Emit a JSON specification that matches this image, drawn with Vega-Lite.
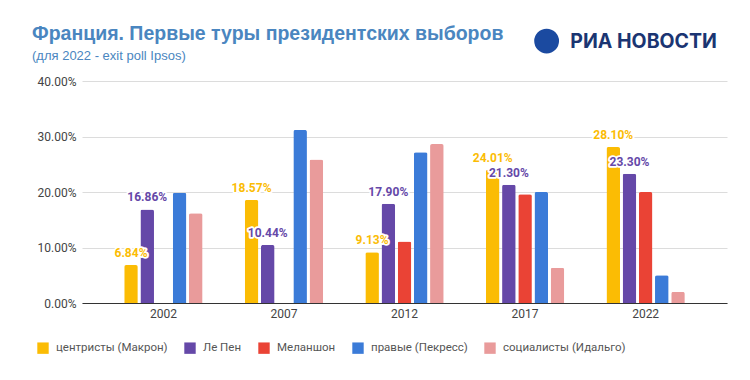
{
  "$schema": "https://vega.github.io/schema/vega-lite/v6.json",
  "width": 645,
  "height": 222,
  "autosize": {"type": "none"},
  "padding": {"left": 82, "top": 81, "right": 23, "bottom": 77},
  "background": "white",
  "title": {
    "text": "Франция. Первые туры президентских выборов",
    "subtitle": "(для 2022 - exit poll Ipsos)",
    "anchor": "start",
    "frame": "group",
    "dx": -50,
    "offset": -35,
    "font": "Liberation Sans",
    "fontSize": 19.5,
    "fontWeight": "bold",
    "color": "#4a86c0",
    "subtitleFont": "Liberation Sans Narrow, Liberation Sans",
    "subtitleFontSize": 13,
    "subtitleColor": "#4a86c0",
    "subtitlePadding": 5
  },
  "config": {
    "view": {"stroke": null},
    "font": "Roboto"
  },
  "datasets": {
    "votes": [
      {"year": "2002", "party": "центристы (Макрон)", "value": 0.0684},
      {"year": "2002", "party": "Ле Пен", "value": 0.1686},
      {"year": "2002", "party": "правые (Пекресс)", "value": 0.1988},
      {"year": "2002", "party": "социалисты (Идальго)", "value": 0.1618},
      {"year": "2007", "party": "центристы (Макрон)", "value": 0.1857},
      {"year": "2007", "party": "Ле Пен", "value": 0.1044},
      {"year": "2007", "party": "правые (Пекресс)", "value": 0.3118},
      {"year": "2007", "party": "социалисты (Идальго)", "value": 0.2587},
      {"year": "2012", "party": "центристы (Макрон)", "value": 0.0913},
      {"year": "2012", "party": "Ле Пен", "value": 0.179},
      {"year": "2012", "party": "Меланшон", "value": 0.111},
      {"year": "2012", "party": "правые (Пекресс)", "value": 0.2718},
      {"year": "2012", "party": "социалисты (Идальго)", "value": 0.2863},
      {"year": "2017", "party": "центристы (Макрон)", "value": 0.2401},
      {"year": "2017", "party": "Ле Пен", "value": 0.213},
      {"year": "2017", "party": "Меланшон", "value": 0.1958},
      {"year": "2017", "party": "правые (Пекресс)", "value": 0.2001},
      {"year": "2017", "party": "социалисты (Идальго)", "value": 0.0636},
      {"year": "2022", "party": "центристы (Макрон)", "value": 0.281},
      {"year": "2022", "party": "Ле Пен", "value": 0.233},
      {"year": "2022", "party": "Меланшон", "value": 0.2},
      {"year": "2022", "party": "правые (Пекресс)", "value": 0.05},
      {"year": "2022", "party": "социалисты (Идальго)", "value": 0.02}
    ],
    "brand": [
      {"name": "РИА НОВОСТИ"}
    ]
  },
  "layer": [
    {
      "data": {"name": "votes"},
      "encoding": {
        "x": {
          "field": "year",
          "type": "nominal",
          "scale": {"paddingInner": 0.35, "paddingOuter": 0.35},
          "axis": {
            "title": null,
            "labelAngle": 0,
            "labelFontSize": 12,
            "labelColor": "#444",
            "labelPadding": 5,
            "ticks": false,
            "domainColor": "#333",
            "domainWidth": 1.2,
            "grid": false
          }
        },
        "y": {
          "field": "value",
          "type": "quantitative",
          "scale": {"domain": [0, 0.4], "nice": false, "zero": true},
          "axis": {
            "title": null,
            "format": ".2%",
            "values": [0, 0.1, 0.2, 0.3, 0.4],
            "labelFontSize": 12,
            "labelColor": "#444",
            "labelPadding": 6,
            "ticks": false,
            "domain": false,
            "gridColor": "#dcdcdc",
            "gridWidth": 1
          }
        },
        "xOffset": {
          "field": "party",
          "type": "nominal",
          "scale": {
            "domain": ["центристы (Макрон)", "Ле Пен", "Меланшон", "правые (Пекресс)", "социалисты (Идальго)"],
            "paddingInner": 0.16
          }
        },
        "color": {
          "field": "party",
          "type": "nominal",
          "scale": {
            "domain": ["центристы (Макрон)", "Ле Пен", "Меланшон", "правые (Пекресс)", "социалисты (Идальго)"],
            "range": ["#fbbc04", "#6548a8", "#ea4335", "#3b7bd8", "#e99b9b"]
          },
          "legend": {
            "title": null,
            "orient": "none",
            "direction": "horizontal",
            "legendX": -45,
            "legendY": 261,
            "symbolType": "square",
            "symbolSize": 130,
            "symbolStrokeWidth": 0,
            "labelFontSize": 11.5,
            "labelColor": "#555",
            "labelOffset": 7,
            "columnPadding": 16
          }
        }
      },
      "layer": [
        {
          "mark": {"type": "bar", "cornerRadiusTopLeft": 2, "cornerRadiusTopRight": 2}
        },
        {
          "transform": [{"filter": "datum.party === 'центристы (Макрон)' || datum.party === 'Ле Пен'"}],
          "mark": {"type": "text", "dy": -12, "fontSize": 12, "fontWeight": "bold", "stroke": "white", "strokeWidth": 3.5, "strokeJoin": "round", "fill": "white"},
          "encoding": {
            "text": {"field": "value", "type": "quantitative", "format": ".2%"},
            "color": {"value": "white"}
          }
        },
        {
          "transform": [{"filter": "datum.party === 'центристы (Макрон)' || datum.party === 'Ле Пен'"}],
          "mark": {"type": "text", "dy": -12, "fontSize": 12, "fontWeight": "bold"},
          "encoding": {
            "text": {"field": "value", "type": "quantitative", "format": ".2%"}
          }
        }
      ]
    },
    {
      "data": {"name": "brand"},
      "mark": {"type": "point", "shape": "circle", "filled": true, "size": 616, "color": "#1b4aa0", "opacity": 1, "xOffset": -99, "clip": false},
      "encoding": {
        "x": {"datum": "2022"},
        "y": {"datum": 0.472}
      }
    },
    {
      "data": {"name": "brand"},
      "mark": {"type": "text", "font": "Inter", "fontSize": 19.5, "fontWeight": "bold", "color": "#1b3572", "align": "center", "baseline": "alphabetic", "xOffset": -2, "clip": false},
      "encoding": {
        "x": {"datum": "2022"},
        "y": {"datum": 0.4595},
        "text": {"field": "name"}
      }
    }
  ]
}
